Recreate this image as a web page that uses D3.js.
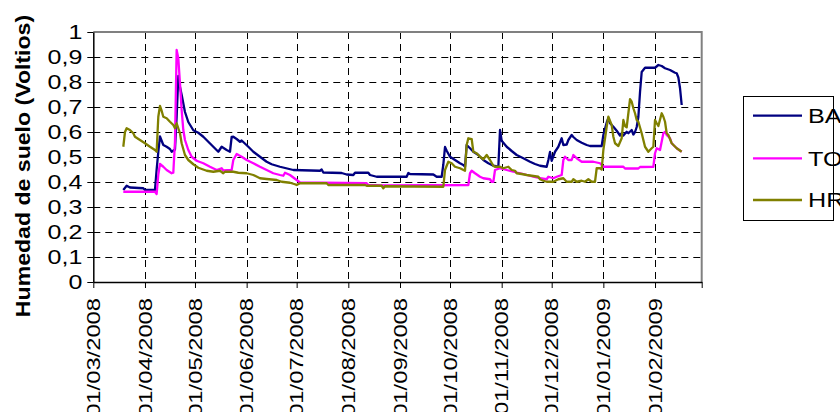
<!DOCTYPE html>
<html>
<head>
<meta charset="utf-8">
<script src="https://cdn.jsdelivr.net/npm/d3@7"></script>
<style>
  html, body { margin: 0; padding: 0; background: #fff; }
  svg { display: block; }
  text { font-family: "Liberation Sans", Arial, sans-serif; fill: #000; }
</style>
</head>
<body>
<svg id="chart" width="840" height="412"></svg>
<script>
// Soil moisture readings (volts) per probe, [date, value]
const seriesNames = ["BA", "TO", "HR"];
const seriesColors = ["#000080", "#FF00FF", "#808000"];

const baData = [
  ["19/03/2008",0.368],["21/03/2008",0.385],["23/03/2008",0.378],["31/03/2008",0.375],["01/04/2008",0.368],
  ["07/04/2008",0.368],["08/04/2008",0.45],["09/04/2008",0.52],["10/04/2008",0.582],["11/04/2008",0.565],
  ["12/04/2008",0.548],["14/04/2008",0.541],["16/04/2008",0.532],["17/04/2008",0.521],["19/04/2008",0.53],
  ["20/04/2008",0.66],["21/04/2008",0.824],["22/04/2008",0.78],["23/04/2008",0.749],["25/04/2008",0.68],
  ["27/04/2008",0.64],["30/04/2008",0.607],["03/05/2008",0.597],["06/05/2008",0.581],["09/05/2008",0.561],
  ["12/05/2008",0.541],["15/05/2008",0.521],["17/05/2008",0.541],["20/05/2008",0.528],["22/05/2008",0.521],
  ["23/05/2008",0.58],["24/05/2008",0.581],["26/05/2008",0.572],["28/05/2008",0.561],["29/05/2008",0.566],
  ["02/06/2008",0.541],["05/06/2008",0.521],["09/06/2008",0.501],["13/06/2008",0.481],["16/06/2008",0.471],
  ["21/06/2008",0.461],["29/06/2008",0.448],["15/07/2008",0.445],["16/07/2008",0.45],["17/07/2008",0.438],
  ["28/07/2008",0.436],["31/07/2008",0.43],["04/08/2008",0.428],["05/08/2008",0.437],["13/08/2008",0.437],
  ["14/08/2008",0.428],["18/08/2008",0.421],["05/09/2008",0.421],["06/09/2008",0.436],["07/09/2008",0.432],
  ["21/09/2008",0.43],["23/09/2008",0.421],["26/09/2008",0.421],["27/09/2008",0.47],["28/09/2008",0.54],
  ["29/09/2008",0.525],["01/10/2008",0.501],["04/10/2008",0.488],["07/10/2008",0.475],["09/10/2008",0.468],
  ["10/10/2008",0.461],["11/10/2008",0.548],["13/10/2008",0.535],["15/10/2008",0.521],["18/10/2008",0.508],
  ["21/10/2008",0.488],["24/10/2008",0.475],["27/10/2008",0.465],["30/10/2008",0.461],["31/10/2008",0.608],
  ["01/11/2008",0.565],["04/11/2008",0.541],["07/11/2008",0.524],["10/11/2008",0.508],["14/11/2008",0.495],
  ["18/11/2008",0.481],["21/11/2008",0.472],["24/11/2008",0.465],["28/11/2008",0.461],["29/11/2008",0.488],
  ["30/11/2008",0.52],["01/12/2008",0.485],["03/12/2008",0.521],["05/12/2008",0.541],["07/12/2008",0.575],
  ["08/12/2008",0.548],["10/12/2008",0.55],["11/12/2008",0.568],["13/12/2008",0.588],["14/12/2008",0.58],
  ["16/12/2008",0.568],["19/12/2008",0.557],["22/12/2008",0.548],["24/12/2008",0.544],["31/12/2008",0.544],
  ["01/01/2009",0.588],["03/01/2009",0.638],["04/01/2009",0.655],["05/01/2009",0.635],["07/01/2009",0.621],
  ["09/01/2009",0.605],["11/01/2009",0.586],["12/01/2009",0.595],["13/01/2009",0.586],["15/01/2009",0.601],
  ["16/01/2009",0.595],["18/01/2009",0.608],["19/01/2009",0.59],["20/01/2009",0.6],["21/01/2009",0.62],
  ["22/01/2009",0.66],["23/01/2009",0.76],["24/01/2009",0.84],["26/01/2009",0.857],["01/02/2009",0.857],
  ["03/02/2009",0.868],["05/02/2009",0.864],["07/02/2009",0.855],["10/02/2009",0.848],["13/02/2009",0.837],
  ["14/02/2009",0.835],["15/02/2009",0.818],["16/02/2009",0.775],["17/02/2009",0.708]
];

const toData = [
  ["19/03/2008",0.361],["07/04/2008",0.361],["08/04/2008",0.352],["09/04/2008",0.43],["10/04/2008",0.472],
  ["12/04/2008",0.461],["14/04/2008",0.448],["17/04/2008",0.435],["18/04/2008",0.437],["19/04/2008",0.56],
  ["20/04/2008",0.928],["21/04/2008",0.895],["22/04/2008",0.795],["23/04/2008",0.688],["24/04/2008",0.608],
  ["25/04/2008",0.568],["27/04/2008",0.528],["29/04/2008",0.501],["02/05/2008",0.485],["06/05/2008",0.475],
  ["10/05/2008",0.461],["14/05/2008",0.448],["17/05/2008",0.455],["18/05/2008",0.446],["23/05/2008",0.448],
  ["24/05/2008",0.488],["26/05/2008",0.512],["29/05/2008",0.501],["01/06/2008",0.488],["05/06/2008",0.475],
  ["09/06/2008",0.461],["13/06/2008",0.448],["17/06/2008",0.435],["21/06/2008",0.428],["23/06/2008",0.425],
  ["24/06/2008",0.437],["27/06/2008",0.428],["01/07/2008",0.408],["03/07/2008",0.398],["12/08/2008",0.395],
  ["13/08/2008",0.388],["22/08/2008",0.386],["12/10/2008",0.388],["13/10/2008",0.435],["14/10/2008",0.445],
  ["16/10/2008",0.435],["19/10/2008",0.421],["21/10/2008",0.415],["25/10/2008",0.411],["26/10/2008",0.401],
  ["27/10/2008",0.401],["28/10/2008",0.448],["31/10/2008",0.455],["04/11/2008",0.448],["08/11/2008",0.441],
  ["14/11/2008",0.432],["20/11/2008",0.421],["24/11/2008",0.415],["28/11/2008",0.411],["29/11/2008",0.421],
  ["02/12/2008",0.415],["04/12/2008",0.421],["07/12/2008",0.428],["08/12/2008",0.488],["09/12/2008",0.501],
  ["11/12/2008",0.488],["13/12/2008",0.488],["14/12/2008",0.508],["16/12/2008",0.495],["19/12/2008",0.481],
  ["26/12/2008",0.481],["30/12/2008",0.475],["01/01/2009",0.461],["13/01/2009",0.461],["14/01/2009",0.454],
  ["22/01/2009",0.454],["23/01/2009",0.46],["31/01/2009",0.461],["01/02/2009",0.515],["02/02/2009",0.535],
  ["04/02/2009",0.528],["06/02/2009",0.595],["07/02/2009",0.601],["08/02/2009",0.588],["10/02/2009",0.575],
  ["11/02/2009",0.555],["12/02/2009",0.548],["14/02/2009",0.535],["17/02/2009",0.521]
];

const hrData = [
  ["19/03/2008",0.541],["20/03/2008",0.6],["21/03/2008",0.615],["23/03/2008",0.608],["25/03/2008",0.595],
  ["26/03/2008",0.581],["29/03/2008",0.568],["01/04/2008",0.555],["04/04/2008",0.541],["07/04/2008",0.528],
  ["08/04/2008",0.521],["09/04/2008",0.661],["10/04/2008",0.704],["11/04/2008",0.685],["12/04/2008",0.661],
  ["14/04/2008",0.655],["16/04/2008",0.641],["18/04/2008",0.628],["19/04/2008",0.615],["20/04/2008",0.635],
  ["22/04/2008",0.595],["23/04/2008",0.555],["25/04/2008",0.508],["27/04/2008",0.488],["30/04/2008",0.471],
  ["03/05/2008",0.457],["08/05/2008",0.445],["12/05/2008",0.441],["16/05/2008",0.445],["18/05/2008",0.435],
  ["19/05/2008",0.441],["24/05/2008",0.441],["27/05/2008",0.437],["01/06/2008",0.435],["05/06/2008",0.428],
  ["09/06/2008",0.415],["13/06/2008",0.412],["19/06/2008",0.408],["22/06/2008",0.401],["27/06/2008",0.397],
  ["30/06/2008",0.391],["01/07/2008",0.388],["03/07/2008",0.395],["19/07/2008",0.395],["20/07/2008",0.388],
  ["11/08/2008",0.388],["12/08/2008",0.385],["21/08/2008",0.385],["22/08/2008",0.375],["23/08/2008",0.383],
  ["27/09/2008",0.381],["28/09/2008",0.448],["30/09/2008",0.481],["02/10/2008",0.475],["04/10/2008",0.461],
  ["07/10/2008",0.455],["10/10/2008",0.445],["11/10/2008",0.548],["12/10/2008",0.575],["14/10/2008",0.572],
  ["15/10/2008",0.521],["17/10/2008",0.515],["19/10/2008",0.501],["21/10/2008",0.491],["23/10/2008",0.508],
  ["25/10/2008",0.488],["27/10/2008",0.465],["28/10/2008",0.461],["31/10/2008",0.461],["02/11/2008",0.455],
  ["05/11/2008",0.461],["07/11/2008",0.448],["09/11/2008",0.445],["10/11/2008",0.435],["13/11/2008",0.432],
  ["16/11/2008",0.428],["20/11/2008",0.424],["23/11/2008",0.421],["24/11/2008",0.411],["26/11/2008",0.405],
  ["28/11/2008",0.401],["02/12/2008",0.401],["05/12/2008",0.411],["08/12/2008",0.415],["10/12/2008",0.401],
  ["13/12/2008",0.401],["14/12/2008",0.411],["16/12/2008",0.401],["19/12/2008",0.405],["21/12/2008",0.401],
  ["23/12/2008",0.411],["25/12/2008",0.401],["27/12/2008",0.401],["28/12/2008",0.455],["30/12/2008",0.455],
  ["31/12/2008",0.45],["01/01/2009",0.528],["03/01/2009",0.621],["04/01/2009",0.661],["06/01/2009",0.628],
  ["07/01/2009",0.581],["08/01/2009",0.555],["10/01/2009",0.544],["12/01/2009",0.575],["13/01/2009",0.648],
  ["14/01/2009",0.624],["15/01/2009",0.619],["17/01/2009",0.731],["18/01/2009",0.721],["19/01/2009",0.695],
  ["20/01/2009",0.675],["21/01/2009",0.648],["22/01/2009",0.641],["24/01/2009",0.595],["26/01/2009",0.541],
  ["28/01/2009",0.521],["30/01/2009",0.535],["31/01/2009",0.541],["01/02/2009",0.648],["02/02/2009",0.635],
  ["03/02/2009",0.624],["05/02/2009",0.675],["06/02/2009",0.661],["07/02/2009",0.641],["08/02/2009",0.595],
  ["09/02/2009",0.588],["11/02/2009",0.555],["14/02/2009",0.535],["17/02/2009",0.521]
];

const xTickLabels = ["01/03/2008","01/04/2008","01/05/2008","01/06/2008","01/07/2008","01/08/2008",
                     "01/09/2008","01/10/2008","01/11/2008","01/12/2008","01/01/2009","01/02/2009"];
const yTicks = [0,0.1,0.2,0.3,0.4,0.5,0.6,0.7,0.8,0.9,1];
const yTickLabels = ["0","0,1","0,2","0,3","0,4","0,5","0,6","0,7","0,8","0,9","1"];
const yTitle = "Humedad de suelo (Voltios)";

const parse = d3.timeParse("%d/%m/%Y");
const plot = { left: 93.3, right: 701.7, top: 32, bottom: 282 };
const svg = d3.select("#chart");

const x = d3.scaleTime()
  .domain([parse("01/03/2008"), parse("01/03/2009")])
  .range([plot.left, plot.right]);
const y = d3.scaleLinear().domain([0, 1]).range([plot.bottom, plot.top]);
const monthTicks = xTickLabels.map(parse).concat([parse("01/03/2009")]);

// layers: grid below the series, text and legend on top
const gridLayer = svg.append("g").attr("class", "grid-layer");
const frameLayer = svg.append("g");
const seriesLayer = svg.append("g");
const axisLayer = svg.append("g");

// axes
const gy = axisLayer.append("g").attr("transform", `translate(${plot.left},0)`)
  .call(d3.axisLeft(y).tickValues(yTicks).tickFormat((d, i) => yTickLabels[i]).tickSize(6).tickSizeOuter(0));
const gx = axisLayer.append("g").attr("transform", `translate(0,${plot.bottom})`)
  .call(d3.axisBottom(x).tickValues(monthTicks)
    .tickFormat((d, i) => i < xTickLabels.length ? xTickLabels[i] : "").tickSize(6).tickSizeOuter(0));
gy.select(".domain").attr("stroke-width", 1.5);
gx.select(".domain").attr("stroke-width", 1.5);

gy.selectAll(".tick text")
  .attr("font-size", 20)
  .attr("x", null).attr("dy", null)
  .attr("text-anchor", "end").attr("dominant-baseline", "central")
  .attr("transform", "translate(-11,0) scale(1.25,1)");
gx.selectAll(".tick text")
  .attr("font-size", 19)
  .attr("y", null).attr("dy", null)
  .attr("text-anchor", "end").attr("dominant-baseline", "central")
  .attr("transform", "translate(0,16) rotate(-90) scale(1.25,1)");

// y axis title
axisLayer.append("text")
  .attr("transform", "translate(30,166) rotate(-90) scale(1.1,1)")
  .attr("text-anchor", "middle")
  .attr("font-size", 21).attr("font-weight", "bold")
  .text(yTitle);

// legend
const legend = axisLayer.append("g");
legend.append("rect")
  .attr("x", 743.5).attr("y", 96.5).attr("width", 90).attr("height", 124)
  .attr("fill", "none").attr("stroke", "#000").attr("stroke-width", 1);
const legendY = [115.7, 158.3, 200];
seriesNames.forEach((name, i) => {
  legend.append("line")
    .attr("x1", 753).attr("x2", 802).attr("y1", legendY[i]).attr("y2", legendY[i])
    .attr("stroke", seriesColors[i]).attr("stroke-width", 2.3);
  legend.append("text")
    .attr("transform", `translate(808,${legendY[i]}) scale(1.2,1)`)
    .attr("dominant-baseline", "central")
    .attr("font-size", 21)
    .text(name);
});

// dashed grid (7 px dash, 5 px gap), month lines and 0.1 steps
gridLayer.selectAll("line.gh").data(yTicks.slice(1, -1)).enter().append("line")
  .attr("class", "gh")
  .attr("x1", plot.left).attr("x2", plot.right)
  .attr("y1", d => Math.round(y(d)) + 0.5).attr("y2", d => Math.round(y(d)) + 0.5)
  .attr("stroke", "#000").attr("stroke-width", 1).attr("stroke-dasharray", "7,5");
gridLayer.selectAll("line.gv").data(monthTicks.slice(1, -1)).enter().append("line")
  .attr("class", "gv")
  .attr("y1", plot.top).attr("y2", plot.bottom)
  .attr("x1", d => Math.round(x(d)) + 0.5).attr("x2", d => Math.round(x(d)) + 0.5)
  .attr("stroke", "#000").attr("stroke-width", 1).attr("stroke-dasharray", "7,5");

// grey frame on the top and right sides
frameLayer.append("path").attr("d", `M${plot.left},${plot.top}H${plot.right}V${plot.bottom}`)
  .attr("fill", "none").attr("stroke", "#808080").attr("stroke-width", 2);

// series
const line = d3.line().x(d => x(parse(d[0]))).y(d => y(d[1]));
seriesLayer.selectAll("path").data([baData, toData, hrData]).join("path")
  .attr("d", line).attr("fill", "none")
  .attr("stroke", (d, i) => seriesColors[i]).attr("stroke-width", 2.3)
  .attr("stroke-linejoin", "round");
</script>
</body>
</html>
